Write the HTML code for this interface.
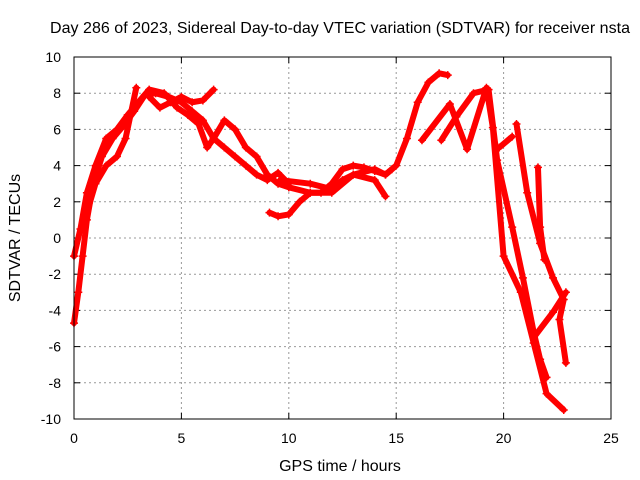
<!DOCTYPE html>
<html><head><meta charset="utf-8"><style>
body{margin:0;background:#fff}
svg{display:block;font-family:"Liberation Sans",sans-serif;font-size:14px}
</style></head><body>
<svg id="chart" width="640" height="480">
<text x="340" y="33" text-anchor="middle" font-size="16" textLength="580">Day 286 of 2023, Sidereal Day-to-day VTEC variation (SDTVAR) for receiver nsta</text>
<text x="340" y="471" text-anchor="middle" font-size="16">GPS time / hours</text>
<text transform="translate(20,238) rotate(-90)" text-anchor="middle" font-size="16">SDTVAR / TECUs</text>
<g id="grid"></g><g id="ticks"></g><g id="marks"></g>
<rect x="74" y="57" width="537" height="362" fill="none" stroke="#000" stroke-width="1"/>
</svg>
<script>
const xTicks=[0,5,10,15,20,25];
const yTicks=[-10,-8,-6,-4,-2,0,2,4,6,8,10];
const trackA=[[0,-4.7],[0.2,-3],[0.4,-1],[0.6,1],[0.9,3],[1.3,4.5],[1.8,5.5],[2.3,6.2],[2.8,7],[3.3,7.9],[3.8,8],[4.4,7.8],[5,7.5],[5.5,7],[6,6.5],[6.5,5.5],[7,5],[7.5,4.5],[8,4],[8.5,3.5],[9,3.2],[9.5,3.6],[10,3]];
const trackB=[[0,-1],[0.3,0.5],[0.6,2.5],[1,4],[1.5,5.5],[2,6],[2.5,6.8],[3,7.5],[3.5,8.2],[4.2,8],[4.8,7.2],[5.3,6.8],[5.8,6.3],[6.2,5],[6.5,5.5],[7,6.5],[7.5,6],[8,5],[8.5,4.5],[9,3.5],[9.5,3],[10,2.8],[11,2.5],[12,2.5],[13,3.5],[14,3.8],[14.5,3.5],[15,4],[15.5,5.5],[16,7.5],[16.5,8.6],[17,9.1],[17.4,9]];
const trackC=[[0.5,1],[1,3],[1.5,4],[2,4.5],[2.4,5.5],[2.9,8.3]];
const trackD=[[9.1,1.4],[9.5,1.2],[10,1.3],[10.5,2],[11,2.5],[11.5,2.5],[12,3],[12.5,3.8],[13,4],[13.5,3.9],[14,3.7],[14.5,3.5],[14.8,3.8]];
const trackE=[[9.6,3.2],[11,3],[12,2.7],[12.5,3.2],[13,3.5],[14,3.2],[14.5,2.3]];
const trackF=[[3.5,7.8],[4,7.2],[4.5,7.5],[5,7.8],[5.5,7.5],[6,7.6],[6.5,8.2]];
const trackG=[[16.2,5.4],[17.5,7.4],[18.3,4.9],[19.2,8.3],[19.5,6.1],[20,-1],[20.8,-3],[21.4,-5.8],[22,-8.6],[22.8,-9.5]];
const trackH=[[17.1,5.4],[17.8,6.7],[18.6,8],[19.3,8.2],[19.7,4.3],[20.4,0.6],[20.9,-2.2],[21.4,-5.2],[21.7,-6.7],[22,-7.7]];
const trackI=[[21.4,-5.5],[22.3,-4.1],[22.9,-3]];
const trackJ=[[20.6,6.3],[21.1,2.5],[21.7,-0.3],[22.3,-2.2],[22.8,-3.4],[22.6,-4.5],[22.9,-6.9]];
const trackK=[[21.6,3.9],[21.7,0.6],[21.9,-1.2]];
const trackL=[[20.4,5.6],[19.8,5]];
const tracks=[trackA,trackB,trackC,trackD,trackE,trackF,trackG,trackH,trackI,trackJ,trackK,trackL];
const X=v=>74+v*537/25, Y=v=>238-v*18.1;
const NS="http://www.w3.org/2000/svg";
const grid=document.getElementById('grid'),ticks=document.getElementById('ticks'),marks=document.getElementById('marks');
function mk(tag,at,parent){const e=document.createElementNS(NS,tag);for(const k in at)e.setAttribute(k,at[k]);parent.appendChild(e);return e;}
xTicks.forEach(t=>{const x=X(t);
 if(t>0&&t<25){const g=mk('line',{x1:x,y1:57,x2:x,y2:419,stroke:'#999','stroke-dasharray':'2,3'},grid);
 
 }
 mk('line',{x1:x,y1:419,x2:x,y2:413,stroke:'#000'},ticks);mk('line',{x1:x,y1:57,x2:x,y2:63,stroke:'#000'},ticks);
 const l=mk('text',{x:x,y:443,'text-anchor':'middle'},ticks);l.textContent=t;
 
 });
yTicks.forEach(t=>{const y=Y(t);
 if(t>-10&&t<10){const g=mk('line',{x1:74,y1:y,x2:611,y2:y,stroke:'#999','stroke-dasharray':'2,3'},grid);
 
 }
 mk('line',{x1:74,y1:y,x2:80,y2:y,stroke:'#000'},ticks);mk('line',{x1:611,y1:y,x2:605,y2:y,stroke:'#000'},ticks);
 const l=mk('text',{x:61,y:y+5,'text-anchor':'end'},ticks);l.textContent=t;
 
 });
tracks.forEach((tr,i)=>{
 const p=mk('polyline',{points:tr.map(d=>X(d[0])+','+Y(d[1])).join(' '),fill:'none',stroke:'#f00','stroke-width':6,'stroke-linejoin':'round','stroke-linecap':'round'},marks);
 
 
 tr.forEach(d=>{const x=X(d[0]),y=Y(d[1]);
  const m=mk('path',{d:`M${x-4},${y}H${x+4}M${x},${y-4}V${y+4}`,stroke:'#f00','stroke-width':1.5},marks);
  
  });
});
</script>
</body></html>
